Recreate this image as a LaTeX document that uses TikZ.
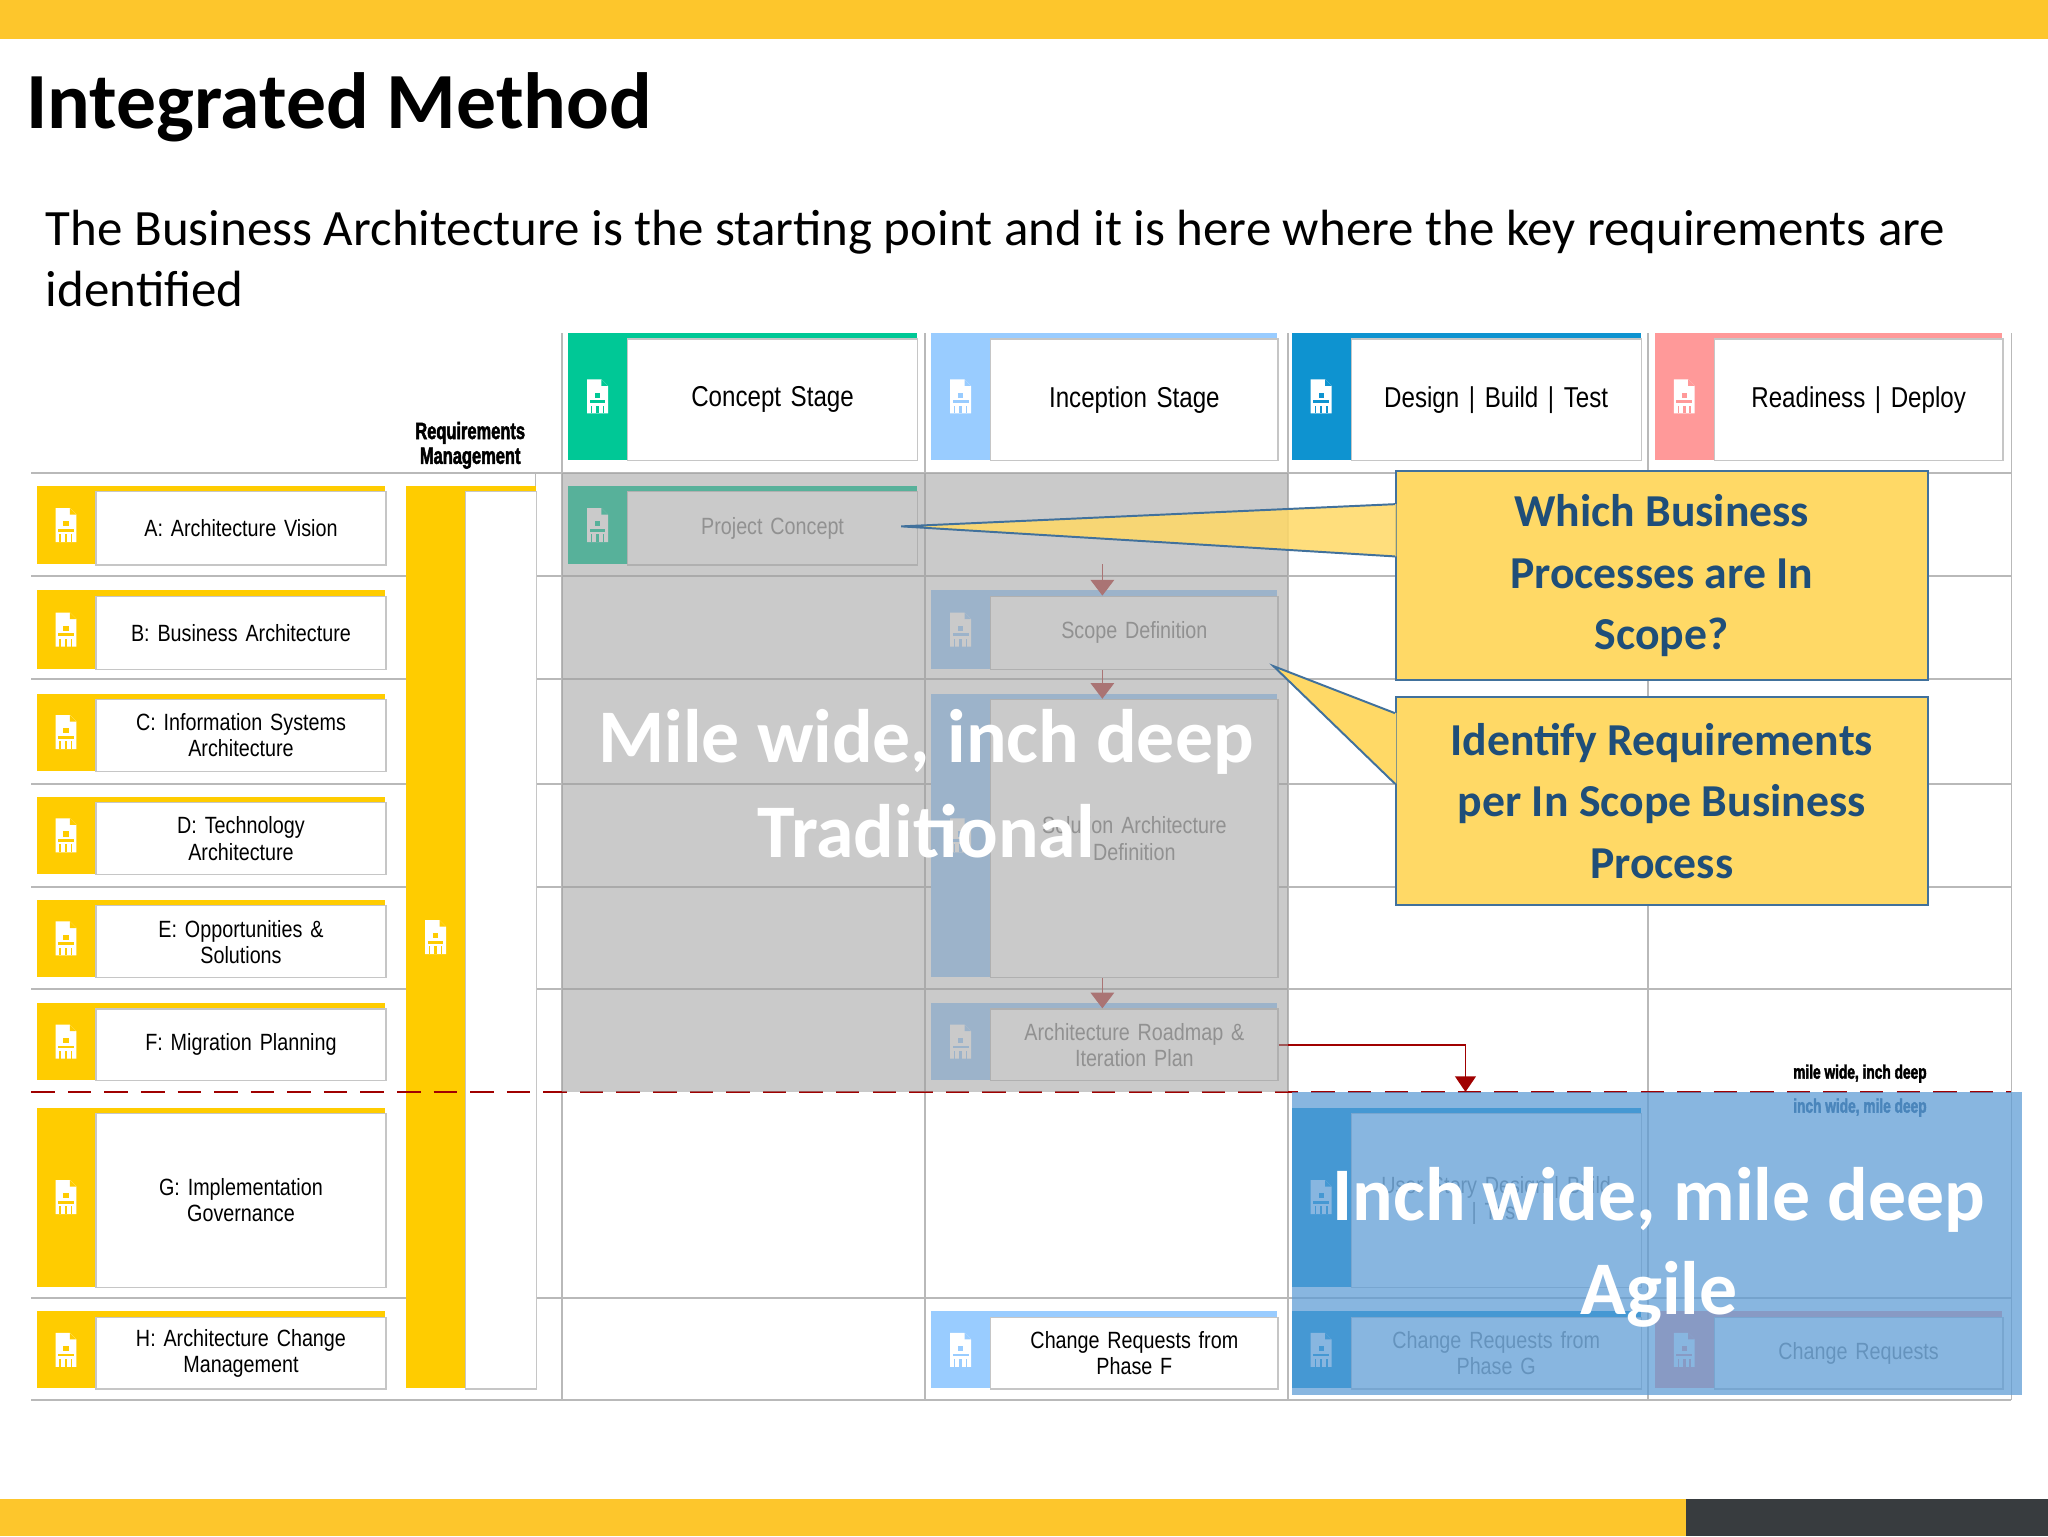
\documentclass[tikz,border=0pt]{standalone}
\usepackage{fontspec}
\setmainfont{Carlito}
\newfontfamily\nfont{Liberation Sans}[FakeStretch=0.84]
\newfontfamily\nbfont{Liberation Sans Bold}[FakeStretch=0.7,FakeBold=2]
\usetikzlibrary{arrows.meta}
\definecolor{topbarcol}{RGB}{253,198,44}
\definecolor{yel}{HTML}{FFCC00}
\definecolor{cgreen}{HTML}{00C896}
\definecolor{clblue}{HTML}{99CCFF}
\definecolor{cblue}{HTML}{0E93D0}
\definecolor{cpink}{HTML}{FF9999}
\definecolor{callfill}{HTML}{FFD966}
\definecolor{calltext}{HTML}{1F4E79}
\definecolor{callline}{HTML}{41719C}
\definecolor{agile}{HTML}{5B9BD5}
\definecolor{dred}{HTML}{A00000}
\definecolor{darkbar}{HTML}{383C3F}
\tikzset{
  gridline/.style={draw=gray!55,line width=1.4pt},
  boxtext/.style={font=\nfont\fontsize{18}{20}\selectfont,align=center},
  headtext/.style={font=\nfont\fontsize{22}{24}\selectfont,align=center},
  callout/.style={fill=callfill,draw=callline,line width=1.5pt},
  calltxt/.style={font=\bfseries\fontsize{35}{47}\selectfont,text=calltext,align=center},
  bigtxt/.style={font=\bfseries\fontsize{58}{72}\selectfont,text=white,align=center},
  smallarrow/.style={dred!75,line width=1pt,-{Triangle[width=18pt,length=12pt]}},
  pics/docicon/.style={code={
    \fill[white] (-8,-13) -- (3,-13) -- (8,-8) -- (8,13) -- (-8,13) -- cycle;
    \fill[#1] (3,-13) -- (3,-8) -- (8,-8) -- cycle;
    \fill[#1] (-2,-3) rectangle (2,1);
    \fill[#1] (-6,3) rectangle (6,5);
    \fill[#1] (-5,7) rectangle (-4,13);
    \fill[#1] (-1,7) rectangle (1,13);
    \fill[#1] (4,7) rectangle (5,13);
  }}
}
% name, x, y, w, h, color, text, style
\newcommand\stbox[8]{%
  \fill[#6] (#2,#3) rectangle ++(45,#5);
  \fill[#6] (#2,#3) rectangle ++(#4,4);
  \node[draw=gray!45,fill=white,line width=1pt,anchor=north west,minimum width=#4-45,minimum height=#5-4,inner sep=0pt,text width=#4-55,#8] (#1) at (#2+45,#3+4) {#7};
  \pic at (#2+22.5,#3+#5/2) {docicon=#6};
}
\begin{document}
\begin{tikzpicture}[x=1pt,y=-1pt]
\useasboundingbox (0,0) rectangle (1568,1176);
\fill[white] (0,0) rectangle (1568,1176);
\fill[topbarcol] (0,0) rectangle (1568,30);
\fill[topbarcol] (0,1148) rectangle (1291,1176);
\fill[darkbar] (1291,1148) rectangle (1568,1176);
\node[anchor=base west,inner sep=0,font=\bfseries\fontsize{61}{70}\selectfont] (title) at (20,98) {Integrated Method};
\node[anchor=base west,inner sep=0,font=\fontsize{39}{47}\selectfont,align=left] (sub) at (35,235) {The Business Architecture is the starting point and it is here where the key requirements are\\identified};
% grid
\foreach \y in {362,441,520,600,679,757,994,1072} \draw[gridline] (24,\y) -- (1540,\y);
\foreach \x in {430,708,986,1262,1540} \draw[gridline] (\x,255) -- (\x,1072);
\draw[gridline] (410,362) -- (410,1063);
% headers
\stbox{hc}{435}{255}{267}{97}{cgreen}{Concept Stage}{headtext}
\stbox{hi}{713}{255}{265}{97}{clblue}{Inception Stage}{headtext}
\stbox{hd}{989}{255}{267}{97}{cblue}{Design | Build | Test}{headtext}
\stbox{hr}{1267}{255}{266}{97}{cpink}{Readiness | Deploy}{headtext}
\node[font=\nbfont\fontsize{18}{19}\selectfont,align=center,inner sep=0] (rmlab) at (360,341) {Requirements\\Management};
% phases
\stbox{pa}{28}{372}{267}{60}{yel}{A: Architecture Vision}{boxtext}
\stbox{pb}{28}{452}{267}{60}{yel}{B: Business Architecture}{boxtext}
\stbox{pc}{28}{531}{267}{59}{yel}{C: Information Systems\\Architecture}{boxtext}
\stbox{pd}{28}{610}{267}{59}{yel}{D: Technology\\Architecture}{boxtext}
\stbox{pe}{28}{689}{267}{59}{yel}{E: Opportunities \&\\Solutions}{boxtext}
\stbox{pf}{28}{768}{267}{59}{yel}{F: Migration Planning}{boxtext}
\stbox{pg}{28}{848}{267}{137}{yel}{G: Implementation\\Governance}{boxtext}
\stbox{ph}{28}{1004}{267}{59}{yel}{H: Architecture Change\\Management}{boxtext}
\stbox{rm}{311}{372}{99}{691}{yel}{}{boxtext}
% inner stage boxes
\stbox{pcon}{435}{372}{267}{60}{cgreen}{Project Concept}{boxtext,text=gray}
\stbox{scope}{713}{452}{265}{60}{clblue}{Scope Definition}{boxtext,text=gray}
\stbox{sol}{713}{531}{265}{217}{clblue}{Solution Architecture\\Definition}{boxtext,text=gray}
\stbox{road}{713}{768}{265}{59}{clblue}{Architecture Roadmap \&\\Iteration Plan}{boxtext,text=gray}
\stbox{crf}{713}{1004}{265}{59}{clblue}{Change Requests from\\Phase F}{boxtext}
\stbox{usd}{989}{848}{267}{137}{cblue}{User Story Design | Build\\| Test}{boxtext,text=gray}
\stbox{crg}{989}{1004}{267}{59}{cblue}{Change Requests from\\Phase G}{boxtext,text=gray}
\stbox{cr}{1267}{1004}{266}{59}{cpink}{Change Requests}{boxtext,text=gray}
% small arrows
\coordinate (a0) at (844,432);
\draw[smallarrow] (a0) -- (a0 |- scope.north);
\draw[smallarrow] (a0 |- scope.south) -- (a0 |- sol.north);
\draw[smallarrow] (a0 |- sol.south) -- (a0 |- road.north);
% dashed line
\draw[dred,line width=1.3pt,dash pattern=on 18pt off 10pt] (24,836) -- (1540,836);
\coordinate (ag) at (1122,836);
\draw[dred,line width=1.3pt,-{Triangle[width=16pt,length=12pt]}] (road.east) -- (road.east -| ag) -- (ag);
% labels
\node[font=\nbfont\fontsize{15}{16}\selectfont,inner sep=0] (mw) at (1424,822) {mile wide, inch deep};
\node[font=\nbfont\fontsize{15}{16}\selectfont,inner sep=0,text=calltext] (iw) at (1424,848) {inch wide, mile deep};
% overlays
\fill[gray!75,opacity=0.55] (430,362) rectangle (986,836);
\fill[agile,opacity=0.72] (989,836) rectangle (1548,1068);
\node[bigtxt] (trad) at (709,600) {Mile wide, inch deep\\Traditional};
\node[bigtxt] (agl) at (1270,955) {Inch wide, mile deep\\Agile};
% callouts
\node[callout,calltxt,minimum width=407,minimum height=160,anchor=north west] (c1) at (1068,360) {Which Business\\Processes are In\\Scope?};
\node[callout,calltxt,minimum width=407,minimum height=159,anchor=north west] (c2) at (1068,533) {Identify Requirements\\per In Scope Business\\Process};
\coordinate (p1) at (690,403);
\coordinate (p2) at (975,510);
\fill[callfill,opacity=0.85] (1069,386) -- (p1) -- (1069,426) -- cycle;
\draw[callline,line width=1.5pt] (1068,386) -- (p1) -- (1068,426);
\fill[callfill] (1069,546) -- (p2) -- (1069,600) -- cycle;
\draw[callline,line width=1.5pt] (1068,546) -- (p2) -- (1068,600);
\end{tikzpicture}
\end{document}
